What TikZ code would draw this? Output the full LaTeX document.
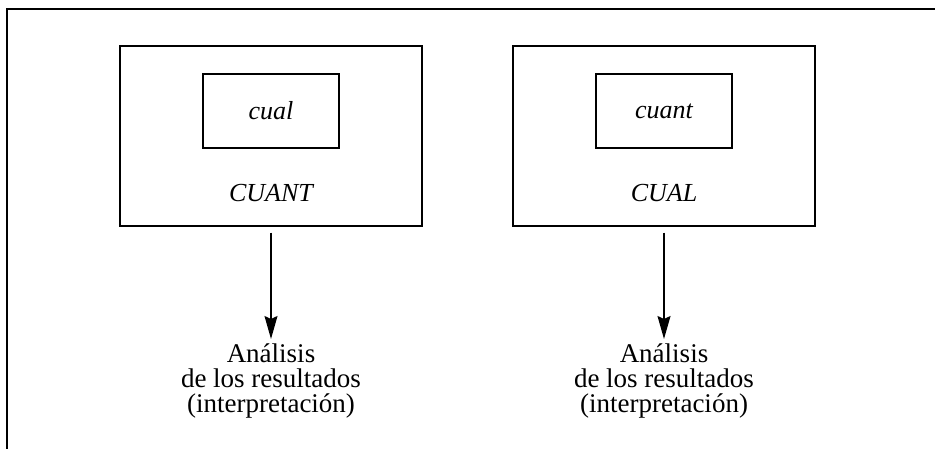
\documentclass[tikz,border=0pt]{standalone}
\usepackage{fontspec}
\setmainfont{Liberation Serif}
\usetikzlibrary{arrows.meta}
\begin{document}
\begin{tikzpicture}[x=1pt,y=-1pt,
  bigbox/.style={draw,line width=1.3pt,minimum width=302pt,minimum height=180pt,inner sep=0pt},
  smallbox/.style={draw,line width=1.3pt,minimum width=136pt,minimum height=74pt,inner sep=0pt,font=\fontsize{26}{26}\selectfont\itshape},
  boxlabel/.style={anchor=base,inner sep=0pt,font=\fontsize{26}{26}\selectfont\itshape},
  result/.style={align=center,anchor=north,inner sep=0pt,font=\fontsize{27}{25}\selectfont},
  conn/.style={line width=1.3pt,-{Stealth[length=23pt,width=13pt,inset=3pt]},shorten <=6pt,shorten >=5pt}]
\useasboundingbox (0,0) rectangle (935,449);
\draw[line width=1.6pt] (7,449) -- (7,9) -- (935,9);
% left
\node[bigbox] (L) at (271,136) {};
\node[smallbox] (Lin) at (271,111) {cual};
\node[boxlabel] (Llab) at (271,201.5) {CUANT};
\node[result] (Lres) at (271,344) {Análisis\\de los resultados\\(interpretación)};
\draw[conn] (L.south) -- (Lres.north);
% right
\node[bigbox] (R) at (664,136) {};
\node[smallbox] (Rin) at (664,111) {cuant};
\node[boxlabel] (Rlab) at (664,201.5) {CUAL};
\node[result] (Rres) at (664,344) {Análisis\\de los resultados\\(interpretación)};
\draw[conn] (R.south) -- (Rres.north);
\end{tikzpicture}
\end{document}
